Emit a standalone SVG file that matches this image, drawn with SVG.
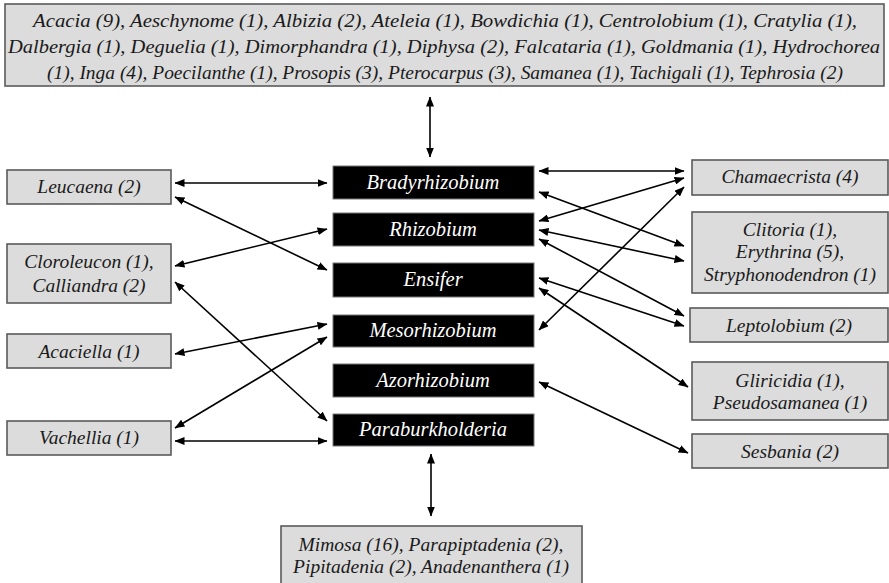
<svg xmlns="http://www.w3.org/2000/svg" width="889" height="583" viewBox="0 0 889 583">
<defs>
<marker id="ah" viewBox="0 0 10 8" refX="9.5" refY="4" markerWidth="10" markerHeight="8" markerUnits="userSpaceOnUse" orient="auto-start-reverse">
<path d="M0,0 L10,4 L0,8 Z" fill="#000"/>
</marker>
</defs>
<style>
.g{fill:#dcdcdc;stroke:#5a5a5a;stroke-width:1.6}
.b{fill:#000;stroke:#777;stroke-width:1}
text{font-family:'Liberation Serif','Times New Roman','DejaVu Serif',serif;font-style:italic;font-size:19.5px;text-anchor:middle}
.t{fill:#1a1a1a}
.w{fill:#fff;font-size:20.5px}
.c line{stroke:#000;stroke-width:1.6;marker-start:url(#ah);marker-end:url(#ah)}
</style>
<rect width="889" height="583" fill="#fff"/>
<g id="top">
<rect class="g" x="5" y="4" width="879" height="82"/>
<text class="t" x="445" y="27" textLength="824" lengthAdjust="spacingAndGlyphs">Acacia (9), Aeschynome (1), Albizia (2), Ateleia (1), Bowdichia (1), Centrolobium (1), Cratylia (1),</text>
<text class="t" x="444" y="53" textLength="872" lengthAdjust="spacingAndGlyphs">Dalbergia (1), Deguelia (1), Dimorphandra (1), Diphysa (2), Falcataria (1), Goldmania (1), Hydrochorea</text>
<text class="t" x="445" y="79" textLength="796" lengthAdjust="spacingAndGlyphs">(1), Inga (4), Poecilanthe (1), Prosopis (3), Pterocarpus (3), Samanea (1), Tachigali (1), Tephrosia (2)</text>
</g>
<g id="bradyrhizobium"><rect class="b" x="333" y="166" width="201" height="33"/><text class="w" x="433" y="189">Bradyrhizobium</text></g>
<g id="rhizobium"><rect class="b" x="333" y="213" width="201" height="33"/><text class="w" x="433" y="236">Rhizobium</text></g>
<g id="ensifer"><rect class="b" x="333" y="263" width="201" height="34"/><text class="w" x="433" y="286">Ensifer</text></g>
<g id="mesorhizobium"><rect class="b" x="333" y="315" width="201" height="32"/><text class="w" x="433" y="337">Mesorhizobium</text></g>
<g id="azorhizobium"><rect class="b" x="333" y="364" width="201" height="33"/><text class="w" x="433" y="387">Azorhizobium</text></g>
<g id="paraburkholderia"><rect class="b" x="333" y="414" width="201" height="32"/><text class="w" x="433" y="436">Paraburkholderia</text></g>
<g id="leucaena"><rect class="g" x="7" y="170" width="164" height="34"/><text class="t" x="89" y="193">Leucaena (2)</text></g>
<g id="cloroleucon"><rect class="g" x="7" y="244" width="164" height="59"/><text class="t" x="89" y="268">Cloroleucon (1),</text><text class="t" x="89" y="292">Calliandra (2)</text></g>
<g id="acaciella"><rect class="g" x="7" y="334" width="164" height="34"/><text class="t" x="89" y="358">Acaciella (1)</text></g>
<g id="vachellia"><rect class="g" x="7" y="421" width="164" height="34"/><text class="t" x="89" y="444">Vachellia (1)</text></g>
<g id="chamaecrista"><rect class="g" x="692" y="160" width="196" height="35"/><text class="t" x="790" y="183">Chamaecrista (4)</text></g>
<g id="clitoria"><rect class="g" x="692" y="212" width="196" height="81"/><text class="t" x="790" y="236">Clitoria (1),</text><text class="t" x="790" y="258">Erythrina (5),</text><text class="t" x="790" y="281">Stryphonodendron (1)</text></g>
<g id="leptolobium"><rect class="g" x="690" y="308" width="198" height="34"/><text class="t" x="789" y="332">Leptolobium (2)</text></g>
<g id="gliricidia"><rect class="g" x="692" y="362" width="196" height="58"/><text class="t" x="790" y="387">Gliricidia (1),</text><text class="t" x="790" y="409">Pseudosamanea (1)</text></g>
<g id="sesbania"><rect class="g" x="692" y="434" width="196" height="34"/><text class="t" x="790" y="458">Sesbania (2)</text></g>
<g id="bottom"><rect class="g" x="281" y="526" width="301" height="60"/><text class="t" x="431" y="551">Mimosa (16), Parapiptadenia (2),</text><text class="t" x="431" y="573">Pipitadenia (2), Anadenanthera (1)</text></g>
<g id="connectors" class="c">
<line x1="430" y1="97" x2="430" y2="157"/>
<line x1="431" y1="454" x2="431" y2="516"/>
<line x1="175" y1="183" x2="327" y2="183"/>
<line x1="175" y1="197" x2="327" y2="270"/>
<line x1="175" y1="266" x2="327" y2="229"/>
<line x1="175" y1="282" x2="327" y2="421"/>
<line x1="175" y1="354" x2="327" y2="324"/>
<line x1="175" y1="428" x2="327" y2="337"/>
<line x1="175" y1="441" x2="327" y2="441"/>
<line x1="539" y1="171" x2="684" y2="171"/>
<line x1="539" y1="192" x2="684" y2="246"/>
<line x1="539" y1="221" x2="684" y2="178"/>
<line x1="539" y1="230" x2="684" y2="261"/>
<line x1="539" y1="239" x2="684" y2="316"/>
<line x1="539" y1="278" x2="684" y2="326"/>
<line x1="539" y1="288" x2="688" y2="387"/>
<line x1="539" y1="330" x2="684" y2="187"/>
<line x1="539" y1="382" x2="688" y2="453"/>
</g>
</svg>
